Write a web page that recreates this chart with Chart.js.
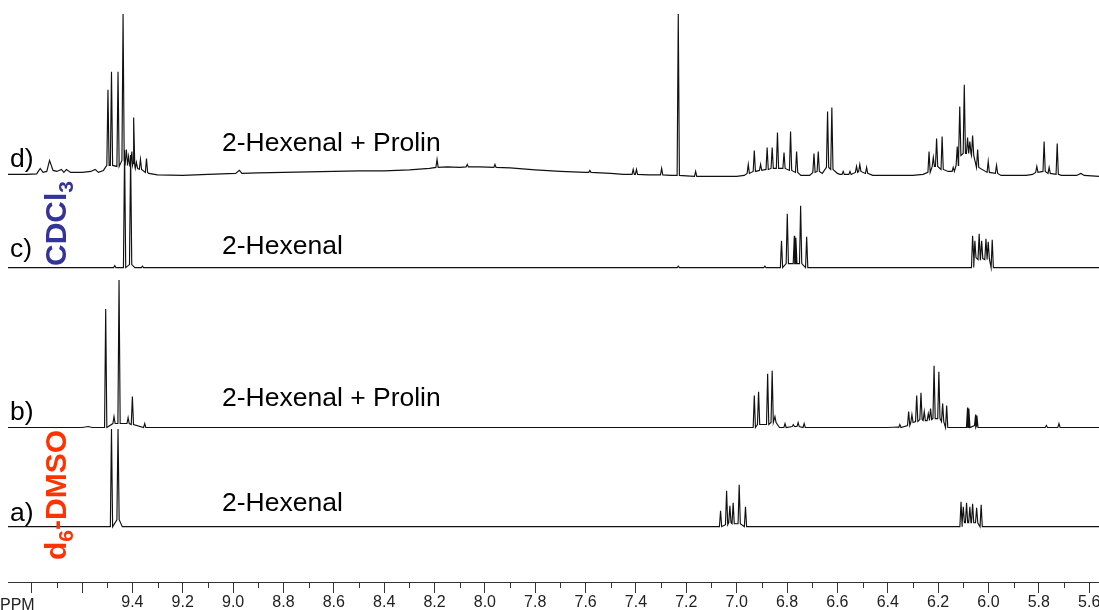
<!DOCTYPE html>
<html>
<head>
<meta charset="utf-8">
<title>1H NMR – 2-Hexenal / Prolin</title>
<script src="https://cdn.jsdelivr.net/npm/chart.js@4.4.1/dist/chart.umd.min.js"></script>
<style>
  html, body { margin: 0; padding: 0; background: #fff; overflow: hidden; }
  #wrap { position: relative; width: 1099px; height: 610px; }
  #nmr { position: absolute; left: 0; top: 0; }
  .lbl { position: absolute; font-family: "Liberation Sans", Arial, sans-serif; font-size: 26.5px; line-height: 26px; color: #000; white-space: nowrap; }
  .solv { position: absolute; font-family: "Liberation Sans", Arial, sans-serif; font-weight: bold; font-size: 30px; line-height: 30px; white-space: nowrap; transform-origin: 0 0; transform: rotate(-90deg); }
  .solv sub { font-size: 21px; vertical-align: -0.32em; line-height: 0; }
  .ppm { position: absolute; left: 0; top: 597px; font-family: "Liberation Sans", Arial, sans-serif; font-size: 16px; line-height: 16px; color: #222; }
</style>
</head>
<body>
<div id="wrap">
  <canvas id="nmr" width="1099" height="610"></canvas>

  <div class="lbl" style="left:10px;top:145px">d)</div>
  <div class="lbl" style="left:222px;top:129px">2-Hexenal + Prolin</div>
  <div class="lbl" style="left:10px;top:235px">c)</div>
  <div class="lbl" style="left:222px;top:232px">2-Hexenal</div>
  <div class="lbl" style="left:10px;top:398px">b)</div>
  <div class="lbl" style="left:222px;top:384px">2-Hexenal + Prolin</div>
  <div class="lbl" style="left:10px;top:499px">a)</div>
  <div class="lbl" style="left:222px;top:489px">2-Hexenal</div>

  <div class="solv" style="left:41px;top:266px;color:#333399">CDCl<sub>3</sub></div>
  <div class="solv" style="left:41px;top:560px;color:#ff3300">d<sub>6</sub>-DMSO</div>

  <div class="ppm">PPM</div>
</div>

<script>
// Chemical-shift window (ppm), plotted high → low
const ppmMax = 9.894;
const ppmMin = 5.561;
const tickStep = 0.2;
const labelFrom = 9.4;          // tick labels are printed from 9.4 ppm downward

// ---- Spectrum d) 2-Hexenal + Prolin in CDCl3 ----
// slowly varying baseline (ppm, intensity)
const baseD = [
  [9.894, 1], [9.82, 1], [9.78, 1.5], [9.766, 7], [9.755, 3], [9.74, 4], [9.729, 15], [9.715, 5],
  [9.70, 4], [9.682, 6], [9.672, 3], [9.662, 6], [9.645, 3], [9.60, 3], [9.565, 4], [9.548, 6],
  [9.535, 3], [9.515, 5],
  [9.335, 2], [9.30, 0.5], [9.20, 0], [9.10, 1], [8.99, 2], [8.975, 5], [8.965, 2], [8.90, 2.5],
  [8.80, 3], [8.70, 3.5], [8.60, 4], [8.50, 4.5], [8.40, 4.5], [8.30, 5.5], [8.22, 7], [8.15, 8.5],
  [8.10, 8], [8.02, 8.5], [7.90, 7.5], [7.80, 5.5], [7.70, 4], [7.60, 3], [7.50, 2], [7.45, 1],
  [7.35, 0.5], [7.26, 0], [7.20, -0.5], [7.10, -1], [7.00, -1], [6.97, 0],
  [6.745, 0], [6.71, 0], [6.66, 2], [6.60, 2], [6.59, 1],
  [6.46, 0], [6.40, 0], [6.30, 0], [6.26, 1], [6.16, 4],
  [5.95, 0], [5.85, 0], [5.825, 1], [5.71, 0], [5.65, 0], [5.633, 2], [5.62, 0], [5.561, -1]
];
// resolved lines: [ppm, top intensity, intensity at the foot]
const peaksD = [
  [9.497, 86, 10], [9.483, 104, 10], [9.457, 104, 9], [9.437, 162, 15], [9.424, 26, 12],
  [9.415, 19, 10], [9.402, 24, 12], [9.395, 58, 10], [9.384, 13, 7], [9.368, 16, 6], [9.344, 17, 3],
  [8.19, 16, 8], [8.07, 11, 8.5], [7.96, 11, 8], [7.583, 5, 3], [7.411, 6, 1], [7.398, 6, 1],
  [7.298, 7, 0.5], [7.232, 162, 0], [7.163, 4, -1],
  [6.954, 11, 2], [6.930, 25, 4], [6.905, 11, 5], [6.879, 28, 6], [6.859, 28, 7], [6.838, 43, 7],
  [6.812, 23, 7], [6.786, 44, 5], [6.762, 24, 3],
  [6.693, 22, 3], [6.676, 24, 4], [6.639, 64, 8], [6.622, 68, 6],
  [6.577, 4, 1], [6.550, 4, 1], [6.524, 9, 3], [6.511, 11, 4], [6.484, 8, 2],
  [6.236, 24, 3], [6.219, 18, 9], [6.206, 37, 9], [6.184, 39, 6], [6.140, 8, 4], [6.124, 29, 10],
  [6.114, 69, 20], [6.096, 91, 22], [6.083, 38, 22], [6.074, 34, 22], [6.063, 40, 20],
  [6.043, 26, 8], [6.001, 14, 3], [5.968, 10, 2],
  [5.808, 9, 3], [5.779, 34, 4], [5.759, 8, 2], [5.727, 32, 1]
];

// ---- Spectrum c) 2-Hexenal in CDCl3 ----
const baseC = [[9.894, 0], [9.39, 0], [6.70, 0], [6.08, 0], [5.97, 0], [5.561, 0]];
const peaksC = [
  [9.470, 2, 0], [9.431, 118, 0], [9.407, 113, 3], [9.360, 1.5, 0], [7.232, 1.5, 0],
  [6.888, 1.5, 0], [6.822, 27, 0], [6.799, 54, 4], [6.771, 32, 4], [6.765, 30, 4],
  [6.746, 62, 4], [6.722, 31, 0],
  [6.063, 32, 0], [6.054, 27, 10], [6.037, 34, 8], [6.027, 27, 9], [6.010, 29, 8],
  [6.001, 26, 9], [5.985, 28, 0]
];

// ---- Spectrum b) 2-Hexenal + Prolin in d6-DMSO ----
const baseB = [[9.894, 0], [9.60, 0], [9.575, 1], [9.56, 0], [9.52, 0], [9.33, 0], [6.95, 0], [6.83, 0],
               [6.40, 0], [6.36, 0.5], [6.15, 0], [6.03, 0], [5.80, 0], [5.561, 0]];
const peaksB = [
  [9.506, 119, 0], [9.473, 11, 4], [9.453, 148, 4], [9.417, 10, 4], [9.400, 31, 3], [9.351, 4, 0],
  [6.930, 32, 0], [6.913, 36, 3], [6.877, 54, 3], [6.859, 57, 5], [6.848, 11, 5],
  [6.808, 4, 0], [6.775, 3, 1], [6.756, 5, 1], [6.732, 4, 0],
  [6.352, 3, 0], [6.317, 16, 2], [6.304, 13, 5], [6.285, 32, 6], [6.268, 35, 8], [6.255, 16, 7],
  [6.239, 14, 7], [6.230, 19, 8], [6.216, 62, 9], [6.197, 56, 9], [6.182, 24, 6], [6.166, 22, 0],
  [6.083, 20, 0], [6.078, 19, 0], [6.051, 13, 2], [6.046, 12, 0],
  [5.770, 2, 0], [5.720, 4, 0]
];

// ---- Spectrum a) 2-Hexenal in d6-DMSO ----
const baseA = [[9.894, 0], [9.50, 0], [9.44, 0], [7.08, 0], [6.95, 0], [6.12, 0], [6.02, 0], [5.561, 0]];
const peaksA = [
  [9.483, 98, 0], [9.457, 98, 7],
  [7.064, 16, 0], [7.040, 36, 2], [7.027, 21, 4], [7.014, 24, 3], [6.990, 42, 3], [6.965, 20, 0],
  [6.109, 25, 0], [6.100, 20, 4], [6.087, 24, 4], [6.074, 20, 4], [6.063, 23, 4],
  [6.047, 19, 4], [6.029, 22, 0]
];

// vertical stacking of the four traces (plot units) and drawn line half-width (ppm)
const stackOffset = { d: 408, c: 315.5, b: 155, a: 55.5 };
const lineHalfWidth = 0.0045;

function trace(base, peaks, offset) {
  const pts = base.map(([x, y]) => ({ x, y: y + offset }));
  peaks.forEach(([p, top, foot]) => {
    pts.push({ x: p + lineHalfWidth, y: foot + offset });
    pts.push({ x: p, y: top + offset });
    pts.push({ x: p - lineHalfWidth, y: foot + offset });
  });
  pts.sort((u, v) => v.x - u.x);
  return pts;
}

const lineStyle = { borderColor: '#111', borderWidth: 1.15, pointRadius: 0, tension: 0, fill: false };

// short ticks at the odd tenths between labelled ticks
const minorTicks = {
  id: 'minorTicks',
  afterDraw(chart) {
    const sx = chart.scales.x;
    const ctx = chart.ctx;
    const y0 = chart.chartArea.bottom;
    ctx.save();
    ctx.strokeStyle = '#333';
    ctx.lineWidth = 1;
    for (let k = 97; k >= 57; k -= 2) {
      const px = Math.round(sx.getPixelForValue(k / 10)) + 0.5;
      ctx.beginPath();
      ctx.moveTo(px, y0);
      ctx.lineTo(px, y0 + 6);
      ctx.stroke();
    }
    ctx.restore();
  }
};

new Chart(document.getElementById('nmr'), {
  type: 'line',
  data: {
    datasets: [
      { label: 'd', data: trace(baseD, peaksD, stackOffset.d), ...lineStyle },
      { label: 'c', data: trace(baseC, peaksC, stackOffset.c), ...lineStyle },
      { label: 'b', data: trace(baseB, peaksB, stackOffset.b), ...lineStyle },
      { label: 'a', data: trace(baseA, peaksA, stackOffset.a), ...lineStyle }
    ]
  },
  options: {
    responsive: false,
    animation: false,
    layout: { padding: { left: 8, right: 0, top: 0, bottom: -3 } },
    plugins: { legend: { display: false }, tooltip: { enabled: false } },
    scales: {
      x: {
        type: 'linear',
        reverse: true,
        min: ppmMin,
        max: ppmMax,
        afterFit(scale) { scale.paddingLeft = 0; scale.paddingRight = 0; },
        border: { display: true, color: '#333', width: 1 },
        grid: { display: true, drawOnChartArea: false, drawTicks: true, tickLength: 11, tickColor: '#333', tickWidth: 1 },
        ticks: {
          stepSize: tickStep,
          includeBounds: false,
          autoSkip: false,
          maxRotation: 0,
          padding: 2,
          color: '#222',
          font: { family: '"Liberation Sans", Arial, sans-serif', size: 16, lineHeight: 1 },
          callback: (v) => (v <= labelFrom + 1e-6 ? v.toFixed(1) : '')
        }
      },
      y: { display: false, min: 0, max: 584 }
    }
  },
  plugins: [minorTicks]
});
</script>
</body>
</html>
